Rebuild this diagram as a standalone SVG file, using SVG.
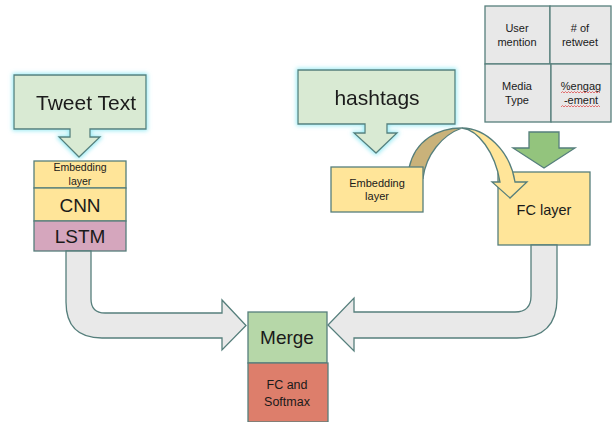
<svg xmlns="http://www.w3.org/2000/svg" width="616" height="422" viewBox="0 0 616 422">
<defs>
<filter id="cyan" x="-20%" y="-20%" width="140%" height="150%">
<feMorphology in="SourceAlpha" operator="dilate" radius="1" result="d"/>
<feGaussianBlur in="d" stdDeviation="2" result="b"/>
<feFlood flood-color="#8ce8f2" flood-opacity="0.9"/>
<feComposite operator="in" in2="b" result="g"/>
<feMerge><feMergeNode in="g"/><feMergeNode in="SourceGraphic"/></feMerge>
</filter>
</defs>
<style>
text{font-family:"Liberation Sans",Arial,sans-serif;fill:#1a1a1a;text-anchor:middle}
.b{stroke:#567f7c;stroke-width:1.3}
.call{fill:#d9ead3}
.yel{fill:#ffe599}
.pink{fill:#d5a6bd}
.gray{fill:#e9e9e9}
.tab{fill:#e8e8e8}
.green{fill:#b6d7a8}
.red{fill:#dd7e6b}
.s11{font-size:11px}
.wave{fill:none;stroke:#e05050;stroke-width:0.8}
</style>
<rect width="616" height="422" fill="#ffffff"/>

<g id="tweet-text" filter="url(#cyan)">
<path class="b call" d="M14,75 L146,75 L146,129 L90,129 L90,137 L100,137 L79,157 L59,137 L70,137 L70,129 L14,129 Z"/>
<text x="86" y="110" style="font-size:21px">Tweet Text</text>
</g>

<g id="hashtags" filter="url(#cyan)">
<path class="b call" d="M298,70 L455,70 L455,124 L387,124 L387,133 L397,133 L376,153 L354,133 L365,133 L365,124 L298,124 Z"/>
<text x="377" y="105" style="font-size:21px">hashtags</text>
</g>

<g id="embedding-left">
<rect class="b yel" x="34" y="161" width="92" height="27"/>
<text x="80" y="171" style="font-size:10.5px">Embedding</text>
<text x="80" y="185" style="font-size:10.5px">layer</text>
</g>
<g id="cnn">
<rect class="b yel" x="34" y="188" width="92" height="33"/>
<text x="80" y="212" style="font-size:19px">CNN</text>
</g>
<g id="lstm">
<rect class="b pink" x="34" y="221" width="92" height="30"/>
<text x="80" y="243" style="font-size:19px">LSTM</text>
</g>

<g id="fc-layer">
<rect class="b yel" x="498" y="172" width="92" height="73"/>
<text x="544" y="215" style="font-size:14.5px">FC layer</text>
</g>

<g id="features">
<rect class="b tab" x="485" y="6" width="65" height="58"/>
<rect class="b tab" x="550" y="6" width="61" height="58"/>
<rect class="b tab" x="485" y="64" width="66" height="58"/>
<rect class="b tab" x="551" y="64" width="60" height="58"/>
<text class="s11" x="517" y="32">User</text>
<text class="s11" x="517" y="46">mention</text>
<text class="s11" x="580" y="32"># of</text>
<text class="s11" x="580" y="46">retweet</text>
<text class="s11" x="517" y="90">Media</text>
<text class="s11" x="517" y="104">Type</text>
<text class="s11" x="581" y="90">%engag</text>
<text class="s11" x="581" y="104">-ement</text>
<path class="wave" d="M561,93 l1.5,-1.5 l1.5,1.5 l1.5,-1.5 l1.5,1.5 l1.5,-1.5 l1.5,1.5 l1.5,-1.5 l1.5,1.5 l1.5,-1.5 l1.5,1.5 l1.5,-1.5 l1.5,1.5 l1.5,-1.5 l1.5,1.5 l1.5,-1.5 l1.5,1.5 l1.5,-1.5 l1.5,1.5 l1.5,-1.5 l1.5,1.5 l1.5,-1.5 l1.5,1.5 l1.5,-1.5 l1.5,1.5 l1.5,-1.5 l1.5,1.5"/>
<path class="wave" d="M561,107 l1.5,-1.5 l1.5,1.5 l1.5,-1.5 l1.5,1.5 l1.5,-1.5 l1.5,1.5 l1.5,-1.5 l1.5,1.5 l1.5,-1.5 l1.5,1.5 l1.5,-1.5 l1.5,1.5 l1.5,-1.5 l1.5,1.5 l1.5,-1.5 l1.5,1.5 l1.5,-1.5 l1.5,1.5 l1.5,-1.5 l1.5,1.5 l1.5,-1.5 l1.5,1.5 l1.5,-1.5 l1.5,1.5 l1.5,-1.5 l1.5,1.5"/>
</g>

<g id="merge">
<rect class="b green" x="248" y="312" width="79" height="51"/>
<text x="287" y="344" style="font-size:19px">Merge</text>
</g>
<g id="fc-softmax">
<rect class="b red" x="248" y="363" width="80" height="59"/>
<text x="287" y="389" style="font-size:12.5px">FC and</text>
<text x="287" y="406" style="font-size:12.5px">Softmax</text>
</g>

<g id="connectors">
<path class="b gray" d="M66,251 L66,302 Q66,338 102,338 L222,338 L222,350 L246,325.5 L222,300 L222,313 L105,313 Q91,313 91,299 L91,251 Z"/>
<path class="b gray" d="M557,245 L557,298 Q557,338 517,338 L354,338 L354,351 L328,325 L354,298 L354,312 L515,312 Q531,312 531,296 L531,245 Z"/>
<path class="b" fill="#c9b27a" d="M409,168 C415,140 438,128 462,128 C442,135 426,155 423,178 Z"/>
<path class="b yel" d="M462,128 C485,128 510,150 515,182 L527,182 L510,198 L492,182 L500,182 C495,152 478,130 462,128 Z"/>
<path class="b" fill="#93c47d" d="M529,132 L559,132 L559,148 L575,148 L544,168 L513,148 L529,148 Z"/>
</g>

<g id="embedding-right">
<rect class="b yel" x="331" y="167" width="92" height="45"/>
<text class="s11" x="377" y="187">Embedding</text>
<text class="s11" x="377" y="200">layer</text>
</g>
</svg>
